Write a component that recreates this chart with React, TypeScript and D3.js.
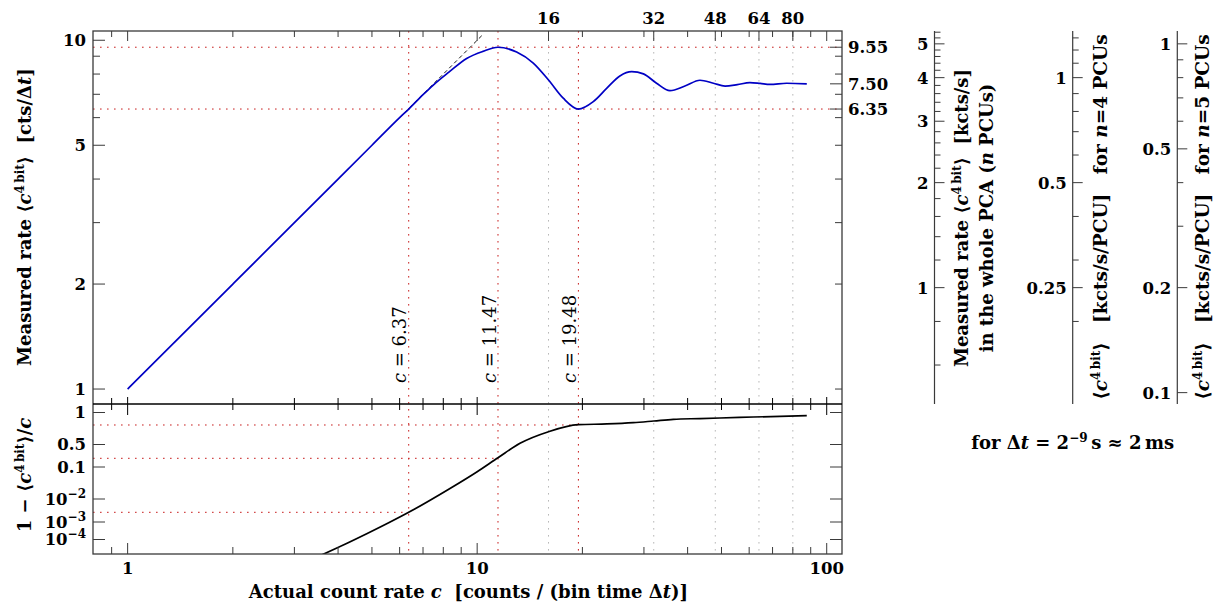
import React from "react";
import * as d3 from "d3";

// ---------------- data ----------------
const actualRate = [1, 2, 3, 4, 5, 6, 6.37, 7, 7.49, 8.3, 9.33, 10.38, 11.47, 12.97, 14.47, 16, 17.63, 19.48, 21.49, 23.5, 25.6, 27.67, 29.9, 32.6, 35.6, 39.3, 43.4, 47.4, 51.2, 55.5, 60.3, 64.5, 68.8, 76.8, 87.7];
const measuredRate = [1, 2, 3, 4, 5, 6, 6.35, 6.98, 7.44, 8.1, 8.87, 9.29, 9.55, 9.25, 8.6, 7.69, 6.82, 6.35, 6.67, 7.29, 7.9, 8.13, 8.01, 7.53, 7.17, 7.39, 7.68, 7.53, 7.39, 7.46, 7.56, 7.52, 7.47, 7.53, 7.5];

const lossRate = [3.6, 4.2, 4.83, 5.6, 6.37, 8.36, 10, 11.47, 13.26, 16, 19.48, 23.5, 27.97, 32, 36.4, 43.4, 49.5, 61.7, 87.7];
const lossFraction = [1.34e-5, 5.5e-5, 2.12e-4, 9.3e-4, 2.64e-3, 0.0213, 0.0713, 0.1945, 0.513, 0.66, 0.768, 0.78, 0.802, 0.832, 0.863, 0.877, 0.888, 0.907, 0.933];

const identityRate = [6, 10.45];

const markRates = [6.37, 11.47, 19.48];
const markLabels = ["6.37", "11.47", "19.48"];
const markLoss = [0.00264, 0.1863, 0.763];

const levelValues = [9.55, 7.5, 6.35];
const levelLabels = ["9.55", "7.50", "6.35"];
const dottedLevels = [9.55, 6.35];

const topTicks = [16, 32, 48, 64, 80];
const xMajor = [1, 10, 100];
const xMinor = [0.9, 2, 3, 4, 5, 6, 7, 8, 9, 20, 30, 40, 50, 60, 70, 80, 90];
const yTicks = [1, 2, 3, 4, 5, 6, 7, 8, 9, 10];
const yLabeled = [1, 2, 5, 10];

const lossTicks = [1, 0.5, 0.1, 0.01, 0.001, 0.0001];
const lossTickLabels = [["1", ""], ["0.5", ""], ["0.1", ""], ["10", "\u22122"], ["10", "\u22123"], ["10", "\u22124"]];

// right axes (kcts/s etc.)
const kctsPerCount = 0.512; // 1 cts/Δt = 512 cts/s
const axisAMajor = [1, 2, 3, 4, 5];
const axisAMinor = d3.range(0.6, 5.45, 0.2).filter((v) => Math.abs(v - Math.round(v)) > 0.05);
const axisBMajor = [0.25, 0.5, 1];
const axisBLabels = ["0.25", "0.5", "1"];
const axisBMinor = [0.2, 0.3, 0.4, 0.6, 0.7, 0.8, 0.9, 1.1, 1.2, 1.3];
const axisCMajor = [0.1, 0.2, 0.5, 1];
const axisCLabels = ["0.1", "0.2", "0.5", "1"];
const axisCMinor = [0.3, 0.4, 0.6, 0.7, 0.8, 0.9];

// ---------------- layout ----------------
const W = 1223, H = 608;
const L = 93, R = 842, T = 31, MID = 404, B = 554;
const AX_A = 934.5, AX_B = 1072.7, AX_C = 1177.3;

const FONT = "'DejaVu Serif', serif";
const RED = "#c81e1e";
const BLUE = "#0000c4";
const FRAME = "#3a3a3a";
const NB = "\u00a0";

export default function App() {
  const x = d3.scaleLog().domain([0.796, 110.6]).range([L, R]);
  const yU = d3.scaleLog().domain([0.906, 10.63]).range([MID, T]);
  const lossScale = d3.scaleLinear().domain([0, 0.301, 1, 2, 3, 4]).range([412.5, 444.5, 467, 499, 522, 539.5]);
  const yL = (v: number) => lossScale(-Math.log10(v));

  const blueLine = d3.line<number>().x((_, i) => x(actualRate[i])).y((d) => yU(d)).curve(d3.curveMonotoneX)(measuredRate) || "";
  const lossLine = d3.line<number>().x((_, i) => x(lossRate[i])).y((d) => yL(d)).curve(d3.curveMonotoneX)(lossFraction) || "";
  const idLine = d3.line<number>().x((d) => x(d)).y((d) => yU(d))(identityRate) || "";

  const dot = "1.6,5.4";
  const boldText = { fontFamily: FONT, fontWeight: 700 as const };

  const rightAxis = (ax: number, major: number[], labels: string[], minor: number[], factor: number) => (
    <g>
      <line x1={ax} x2={ax} y1={T} y2={MID} stroke={FRAME} strokeWidth={1.2} />
      {minor.map((m, i) => (
        <line key={"mi" + i} x1={ax} x2={ax + 6} y1={yU(m / factor)} y2={yU(m / factor)} stroke={FRAME} strokeWidth={1} />
      ))}
      {major.map((m, i) => (
        <g key={"ma" + i}>
          <line x1={ax} x2={ax + 10} y1={yU(m / factor)} y2={yU(m / factor)} stroke={FRAME} strokeWidth={1} />
          <text x={ax - 6} y={yU(m / factor)} dy="0.36em" textAnchor="end" fontSize={16.5} {...boldText}>{labels[i]}</text>
        </g>
      ))}
    </g>
  );

  return (
    <svg width={W} height={H} style={{ position: "absolute", left: 0, top: 0, background: "#fff" }}>
      <defs>
        <clipPath id="clipU"><rect x={L} y={T} width={R - L} height={MID - T} /></clipPath>
        <clipPath id="clipL"><rect x={L} y={MID} width={R - L} height={B - MID} /></clipPath>
      </defs>

      {/* gray dotted verticals */}
      {topTicks.map((t) => (
        <line key={"g" + t} x1={x(t)} x2={x(t)} y1={T} y2={B} stroke="#b8b8b8" strokeWidth={1} strokeDasharray={dot} />
      ))}
      {/* red dotted verticals */}
      {markRates.map((c) => (
        <line key={"rv" + c} x1={x(c)} x2={x(c)} y1={T} y2={B} stroke={RED} strokeWidth={1} strokeDasharray={dot} />
      ))}
      {/* red dotted horizontals upper */}
      {dottedLevels.map((v) => (
        <line key={"rh" + v} x1={L} x2={R} y1={yU(v)} y2={yU(v)} stroke={RED} strokeWidth={1} strokeDasharray={dot} />
      ))}
      {/* red dotted horizontals lower */}
      {markLoss.map((v, i) => (
        <line key={"rl" + v} x1={L} x2={x(markRates[i])} y1={yL(v)} y2={yL(v)} stroke={RED} strokeWidth={1} strokeDasharray={dot} />
      ))}

      {/* curves */}
      <g clipPath="url(#clipU)">
        <path d={idLine} fill="none" stroke="#000" strokeWidth={0.9} strokeDasharray="4,3" />
        <path d={blueLine} fill="none" stroke={BLUE} strokeWidth={1.7} />
      </g>
      <g clipPath="url(#clipL)">
        <path d={lossLine} fill="none" stroke="#000" strokeWidth={1.7} />
      </g>

      {/* frames */}
      <rect x={L} y={T} width={R - L} height={B - T} fill="none" stroke={FRAME} strokeWidth={1.3} />
      <line x1={L} x2={R} y1={MID} y2={MID} stroke="#000" strokeWidth={1.5} />

      {/* x ticks */}
      {xMajor.map((t) => (
        <g key={"xM" + t}>
          <line x1={x(t)} x2={x(t)} y1={B} y2={B - 11} stroke={FRAME} />
          <line x1={x(t)} x2={x(t)} y1={T} y2={T + 10} stroke={FRAME} />
          <line x1={x(t)} x2={x(t)} y1={MID - 7} y2={MID + 11} stroke="#000" />
          <text x={x(t)} y={574} textAnchor="middle" fontSize={16.5} {...boldText}>{t}</text>
        </g>
      ))}
      {xMinor.map((t) => (
        <g key={"xm" + t}>
          <line x1={x(t)} x2={x(t)} y1={B} y2={B - 7} stroke={FRAME} />
          <line x1={x(t)} x2={x(t)} y1={T} y2={T + 6} stroke={FRAME} />
          <line x1={x(t)} x2={x(t)} y1={MID - 6} y2={MID + 6} stroke="#000" />
        </g>
      ))}
      {topTicks.map((t) => (
        <g key={"xt" + t}>
          <line x1={x(t)} x2={x(t)} y1={T} y2={T + 10} stroke={FRAME} />
          <text x={x(t)} y={23.5} textAnchor="middle" fontSize={16.5} {...boldText}>{t}</text>
        </g>
      ))}

      {/* upper y ticks */}
      {yTicks.map((t) => {
        const major = yLabeled.includes(t);
        return (
          <g key={"y" + t}>
            <line x1={L} x2={L + (major ? 12 : 7)} y1={yU(t)} y2={yU(t)} stroke={FRAME} />
            <line x1={R} x2={R - 7} y1={yU(t)} y2={yU(t)} stroke={FRAME} />
            {major && (
              <text x={86} y={yU(t)} dy="0.36em" textAnchor="end" fontSize={16.5} {...boldText}>{t}</text>
            )}
          </g>
        );
      })}
      {levelValues.map((v, i) => (
        <g key={"lv" + v}>
          <line x1={R} x2={R - 12} y1={yU(v)} y2={yU(v)} stroke={FRAME} />
          <text x={848} y={yU(v)} dy="0.36em" textAnchor="start" fontSize={16.5} {...boldText}>{levelLabels[i]}</text>
        </g>
      ))}

      {/* lower y ticks */}
      {lossTicks.map((t, i) => (
        <g key={"lt" + i}>
          <line x1={L} x2={L + 12} y1={yL(t)} y2={yL(t)} stroke={FRAME} />
          <line x1={R} x2={R - 12} y1={yL(t)} y2={yL(t)} stroke={FRAME} />
          <text x={86} y={yL(t)} dy="0.36em" textAnchor="end" fontSize={16.5} {...boldText}>
            {lossTickLabels[i][0]}
            {lossTickLabels[i][1] && <tspan dy={-7} fontSize={12}>{lossTickLabels[i][1]}</tspan>}
          </text>
        </g>
      ))}

      {/* annotations c = ... */}
      {markRates.map((c, i) => (
        <text key={"an" + c} transform={`translate(${x(c) - 2.3},383) rotate(-90)`} textAnchor="start" fontSize={18} fontFamily={FONT}>
          <tspan fontStyle="italic">c</tspan>
          <tspan>{" = " + markLabels[i]}</tspan>
        </text>
      ))}

      {/* axis titles */}
      <text transform="translate(31,217) rotate(-90)" textAnchor="middle" fontSize={18} {...boldText}>
        <tspan>{"Measured rate \u27e8"}</tspan>
        <tspan fontStyle="italic">c</tspan>
        <tspan dy={-7} fontSize={12}>{"4\u2009bit"}</tspan>
        <tspan dy={7}>{"\u27e9" + NB + NB + "[cts/\u0394"}</tspan>
        <tspan fontStyle="italic">t</tspan>
        <tspan>]</tspan>
      </text>
      <text transform="translate(31,475) rotate(-90)" textAnchor="middle" fontSize={18} {...boldText}>
        <tspan>{"1 \u2212 \u27e8"}</tspan>
        <tspan fontStyle="italic">c</tspan>
        <tspan dy={-7} fontSize={12}>{"4\u2009bit"}</tspan>
        <tspan dy={7}>{"\u27e9/"}</tspan>
        <tspan fontStyle="italic">c</tspan>
      </text>
      <text x={468.5} y={598} textAnchor="middle" fontSize={18} {...boldText}>
        <tspan>{"Actual count rate "}</tspan>
        <tspan fontStyle="italic">c</tspan>
        <tspan>{NB + NB + "[counts / (bin time \u0394"}</tspan>
        <tspan fontStyle="italic">t</tspan>
        <tspan>)]</tspan>
      </text>

      {/* right axes */}
      {rightAxis(AX_A, axisAMajor, axisAMajor.map(String), axisAMinor, kctsPerCount)}
      {rightAxis(AX_B, axisBMajor, axisBLabels, axisBMinor, kctsPerCount / 4)}
      {rightAxis(AX_C, axisCMajor, axisCLabels, axisCMinor, kctsPerCount / 5)}

      <text transform="translate(968,218) rotate(-90)" textAnchor="middle" fontSize={18} {...boldText}>
        <tspan>{"Measured rate \u27e8"}</tspan>
        <tspan fontStyle="italic">c</tspan>
        <tspan dy={-7} fontSize={12}>{"4\u2009bit"}</tspan>
        <tspan dy={7}>{"\u27e9" + NB + NB + "[kcts/s]"}</tspan>
      </text>
      <text transform="translate(993,218) rotate(-90)" textAnchor="middle" fontSize={18} {...boldText}>
        <tspan>{"in the whole PCA ("}</tspan>
        <tspan fontStyle="italic">n</tspan>
        <tspan>{" PCUs)"}</tspan>
      </text>
      {[4, 5].map((n, i) => (
        <text key={"pcu" + n} transform={`translate(${i === 0 ? 1107 : 1209},217) rotate(-90)`} textAnchor="middle" fontSize={18.5} {...boldText}>
          <tspan>{"\u27e8"}</tspan>
          <tspan fontStyle="italic">c</tspan>
          <tspan dy={-7} fontSize={12}>{"4\u2009bit"}</tspan>
          <tspan dy={7}>{"\u27e9" + NB + NB + NB + "[kcts/s/PCU]" + NB + NB + NB + "for "}</tspan>
          <tspan fontStyle="italic">n</tspan>
          <tspan>{"=" + n + " PCUs"}</tspan>
        </text>
      ))}
      <text x={1072.7} y={449} textAnchor="middle" fontSize={18} {...boldText}>
        <tspan>{"for \u0394"}</tspan>
        <tspan fontStyle="italic">t</tspan>
        <tspan>{" = 2"}</tspan>
        <tspan dy={-7} fontSize={12}>{"\u22129"}</tspan>
        <tspan dy={7}>{"\u2009s \u2248 2\u2009ms"}</tspan>
      </text>
    </svg>
  );
}
